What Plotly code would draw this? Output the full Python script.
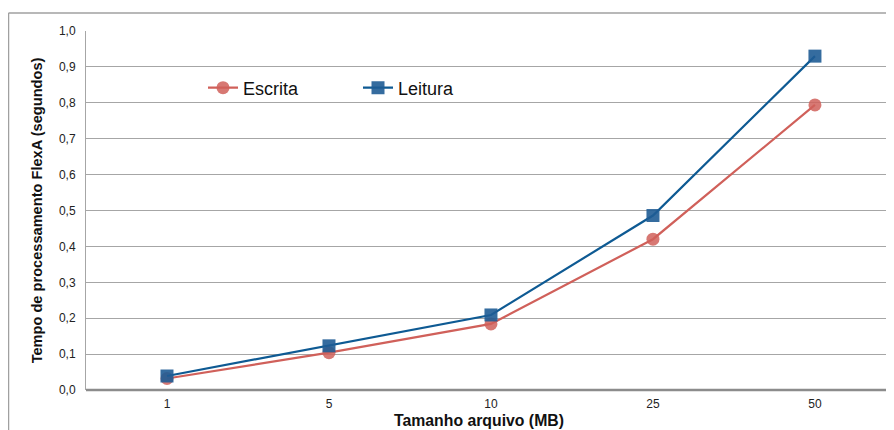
import plotly.graph_objects as go

categories = ["1", "5", "10", "25", "50"]
escrita = [0.032, 0.104, 0.184, 0.420, 0.794]
leitura = [0.039, 0.123, 0.209, 0.486, 0.930]

red = "#d0605a"
blue = "#0e5a93"

fig = go.Figure()
fig.add_trace(go.Scatter(
    x=categories, y=escrita, name="Escrita", mode="lines+markers",
    line=dict(color=red, width=2.2),
    marker=dict(symbol="circle", size=13, color=red, opacity=0.85),
))
fig.add_trace(go.Scatter(
    x=categories, y=leitura, name="Leitura", mode="lines+markers",
    line=dict(color=blue, width=2.2),
    marker=dict(symbol="square", size=13, color="#1f5c95", opacity=0.9),
))

# page has an 8px body margin, so figure coords = page coords - 8
W, H = 886, 422
L, R, T, B = 78, 0, 23, 40
pw = W - L - R
ph = H - T - B

def px(x):
    return (x - L) / pw

def py(y):
    return (H - B - y) / ph

fig.update_layout(
    width=W, height=H,
    margin=dict(l=L, r=R, t=T, b=B),
    paper_bgcolor="white", plot_bgcolor="white",
    separators=",.",
    font=dict(family="Liberation Sans, Arial, sans-serif", color="#222"),
    showlegend=True,
    legend=dict(
        orientation="h", x=px(195), y=py(80), xanchor="left", yanchor="middle",
        font=dict(size=18, color="#111"), bgcolor="rgba(0,0,0,0)",
        entrywidth=110, entrywidthmode="pixels", itemwidth=30,
    ),
    xaxis=dict(
        type="category", range=[-0.5, 4.488],
        showgrid=False, showline=False, ticks="",
        ticklabelstandoff=5,
        tickfont=dict(size=12, color="#222"),
    ),
    yaxis=dict(
        range=[0, 1.0], dtick=0.1, tickformat=".1f",
        showgrid=True, gridcolor="#a6a6a6", gridwidth=1,
        zeroline=False,
        showline=True, linecolor="#a6a6a6", linewidth=1,
        ticks="", ticklabelstandoff=7,
        tickfont=dict(size=12, color="#222"),
        title=dict(text="<b>Tempo de processamento FlexA (segundos)</b>", font=dict(size=14.6, color="#111"), standoff=12),
    ),
    annotations=[
        dict(text="<b>Tamanho arquivo (MB)</b>", xref="paper", yref="paper",
             x=px(470.5), y=py(422), xanchor="center", yanchor="bottom",
             showarrow=False, font=dict(size=15.8, color="#111"),
             borderpad=0),
    ],
    shapes=[
        dict(type="line", xref="paper", yref="paper", x0=0, x1=1, y0=0, y1=0,
             line=dict(color="#8c8c8c", width=2.5), layer="below"),
        dict(type="line", xref="paper", yref="paper", x0=px(0.5), x1=1.0, y0=py(5), y1=py(5),
             line=dict(color="#a0a0a0", width=1.5)),
        dict(type="line", xref="paper", yref="paper", x0=px(0.5), x1=px(0.5), y0=py(5), y1=py(424),
             line=dict(color="#a0a0a0", width=1.5)),
    ],
)

fig.write_html("out.html")
